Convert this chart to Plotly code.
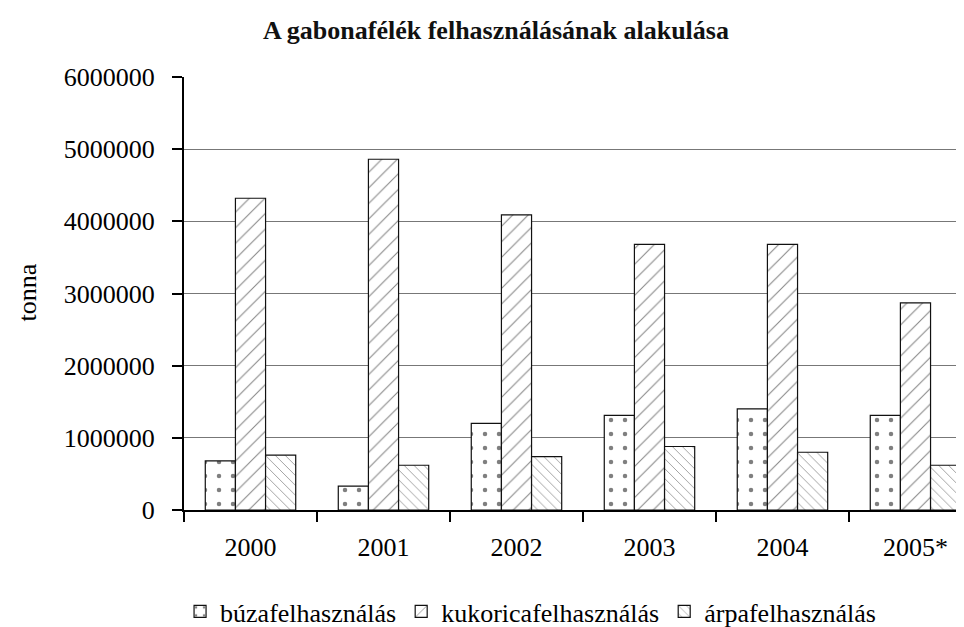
import plotly.graph_objects as go

# data (tonna)
years = ["2000", "2001", "2002", "2003", "2004", "2005*"]
buza = [680000, 330000, 1200000, 1310000, 1400000, 1310000]
kukorica = [4320000, 4860000, 4090000, 3680000, 3680000, 2870000]
arpa = [760000, 620000, 740000, 880000, 800000, 620000]

series_names = ["búzafelhasználás", "kukoricafelhasználás", "árpafelhasználás"]

FONT = "Liberation Serif, Times New Roman, serif"

fig = go.Figure()

fig.add_trace(go.Bar(
    x=years, y=buza, name=series_names[0],
    marker=dict(color="white", line=dict(color="#111", width=1.2),
                pattern=dict(shape=".", fgcolor="black", bgcolor="white",
                             size=14, solidity=0.08)),
))
fig.add_trace(go.Bar(
    x=years, y=kukorica, name=series_names[1],
    marker=dict(color="white", line=dict(color="#111", width=1.2),
                pattern=dict(shape="/", fgcolor="#111", bgcolor="white",
                             size=11, solidity=0.1)),
))
fig.add_trace(go.Bar(
    x=years, y=arpa, name=series_names[2],
    marker=dict(color="white", line=dict(color="#111", width=1.2),
                pattern=dict(shape="\\", fgcolor="#444", bgcolor="white",
                             size=7, solidity=0.14)),
))

fig.update_layout(
    width=964, height=627,
    margin=dict(l=176, r=0, t=69, b=120),
    paper_bgcolor="white", plot_bgcolor="white",
    font=dict(family=FONT, size=26, color="black"),
    barmode="group", bargap=0.32, bargroupgap=0,
    title=dict(text="<b>A gabonafélék felhasználásának alakulása</b>",
               font=dict(family=FONT, size=26, color="#111"),
               xref="container", x=488 / 964, xanchor="center",
               yref="container", y=1 - 22 / 627, yanchor="middle"),
    showlegend=True,
    legend=dict(orientation="h", x=-0.005, xanchor="left",
                y=-0.235, yanchor="middle",
                font=dict(family=FONT, size=26, color="black"),
                bgcolor="rgba(0,0,0,0)", itemwidth=30, traceorder="normal"),
)

fig.update_xaxes(
    type="category", range=[-0.5, 5.425],
    showline=True, linecolor="black", linewidth=2,
    ticks="outside", tickson="boundaries", ticklen=10, tickwidth=2,
    tickcolor="black", ticklabelstandoff=13, showgrid=False,
    tickfont=dict(family=FONT, size=26),
)

fig.update_yaxes(
    range=[0, 6000000], tickvals=[0, 1000000, 2000000, 3000000, 4000000, 5000000, 6000000],
    tickformat="d",
    showline=True, linecolor="black", linewidth=2,
    ticks="outside", ticklen=10, tickwidth=2, tickcolor="black",
    ticklabelstandoff=12,
    showgrid=True, gridcolor="#777", gridwidth=1, zeroline=False,
    tickfont=dict(family=FONT, size=26),
)

fig.add_annotation(
    text="tonna", textangle=-90, showarrow=False,
    xref="paper", yref="paper", x=(20 - 176) / 788, y=(507 - 287) / 438,
    xanchor="center", yanchor="middle",
    font=dict(family=FONT, size=26, color="black"),
)

fig.write_html("out.html")
